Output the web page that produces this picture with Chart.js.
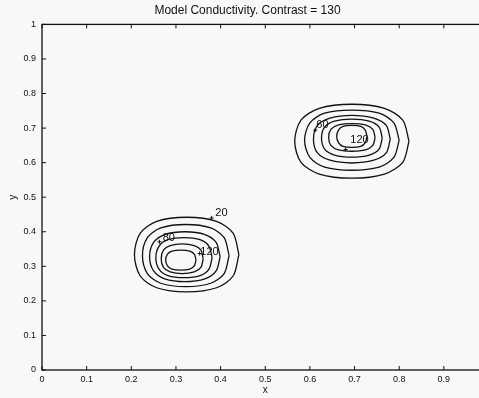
<!DOCTYPE html>
<html>
<head>
<meta charset="utf-8">
<script src="https://cdn.jsdelivr.net/npm/chart.js@4"></script>
<style>
  html, body { margin: 0; padding: 0; background: #f8f8f8; overflow: hidden; }
  canvas { display: block; }
</style>
</head>
<body>
<canvas id="contourChart" width="495" height="398"></canvas>
<script>
// contour levels, outer ring first
const levels = [20, 40, 60, 80, 100, 120];

// lower-left blob, one ring per level (x and y)
const lowX = [
  [0.441, 0.428, 0.391, 0.324, 0.257, 0.220, 0.207, 0.220, 0.257, 0.324, 0.391, 0.428],
  [0.419, 0.408, 0.378, 0.322, 0.266, 0.236, 0.225, 0.236, 0.266, 0.322, 0.378, 0.408],
  [0.399, 0.390, 0.365, 0.320, 0.275, 0.250, 0.241, 0.250, 0.275, 0.320, 0.365, 0.390],
  [0.381, 0.374, 0.354, 0.318, 0.282, 0.262, 0.255, 0.262, 0.282, 0.318, 0.354, 0.374],
  [0.361, 0.356, 0.341, 0.314, 0.287, 0.272, 0.267, 0.272, 0.287, 0.314, 0.341, 0.356],
  [0.345, 0.341, 0.331, 0.311, 0.291, 0.281, 0.277, 0.281, 0.291, 0.311, 0.331, 0.341]
];
const lowY = [
  [0.334, 0.396, 0.430, 0.442, 0.430, 0.396, 0.334, 0.272, 0.238, 0.226, 0.238, 0.272],
  [0.331, 0.383, 0.411, 0.421, 0.411, 0.383, 0.331, 0.279, 0.251, 0.241, 0.251, 0.279],
  [0.328, 0.369, 0.392, 0.400, 0.392, 0.369, 0.328, 0.287, 0.264, 0.256, 0.264, 0.287],
  [0.325, 0.358, 0.377, 0.383, 0.377, 0.358, 0.325, 0.292, 0.273, 0.267, 0.273, 0.292],
  [0.322, 0.347, 0.360, 0.365, 0.360, 0.347, 0.322, 0.297, 0.284, 0.279, 0.284, 0.297],
  [0.318, 0.335, 0.344, 0.347, 0.344, 0.335, 0.318, 0.301, 0.292, 0.289, 0.292, 0.301]
];

// upper-right blob
const highX = [
  [0.822, 0.808, 0.767, 0.694, 0.621, 0.580, 0.566, 0.580, 0.621, 0.694, 0.767, 0.808],
  [0.800, 0.788, 0.755, 0.694, 0.633, 0.600, 0.588, 0.600, 0.633, 0.694, 0.755, 0.788],
  [0.780, 0.771, 0.743, 0.694, 0.645, 0.617, 0.608, 0.617, 0.645, 0.694, 0.743, 0.771],
  [0.762, 0.755, 0.733, 0.694, 0.655, 0.633, 0.626, 0.633, 0.655, 0.694, 0.733, 0.755],
  [0.746, 0.741, 0.724, 0.694, 0.664, 0.647, 0.642, 0.647, 0.664, 0.694, 0.724, 0.741],
  [0.728, 0.724, 0.714, 0.694, 0.674, 0.664, 0.660, 0.664, 0.674, 0.694, 0.714, 0.724]
];
const highY = [
  [0.662, 0.723, 0.757, 0.769, 0.757, 0.723, 0.662, 0.601, 0.567, 0.555, 0.567, 0.601],
  [0.665, 0.715, 0.743, 0.752, 0.743, 0.715, 0.665, 0.615, 0.587, 0.578, 0.587, 0.615],
  [0.668, 0.708, 0.729, 0.737, 0.729, 0.708, 0.668, 0.628, 0.607, 0.599, 0.607, 0.628],
  [0.671, 0.703, 0.720, 0.726, 0.720, 0.703, 0.671, 0.639, 0.622, 0.616, 0.622, 0.639],
  [0.673, 0.696, 0.709, 0.713, 0.709, 0.696, 0.673, 0.650, 0.637, 0.633, 0.637, 0.650],
  [0.676, 0.694, 0.705, 0.708, 0.705, 0.694, 0.676, 0.658, 0.647, 0.644, 0.647, 0.658]
];

// contour labels and their "+" anchor marks
const labelText = ['20', '80', '120', '60', '120'];
const labelX = [0.402, 0.284, 0.375, 0.628, 0.711];
const labelY = [0.454, 0.382, 0.341, 0.708, 0.665];
const markX = [0.380, 0.263, 0.353, 0.612, 0.680];
const markY = [0.440, 0.371, 0.337, 0.694, 0.638];

const tickValues = [0, 0.1, 0.2, 0.3, 0.4, 0.5, 0.6, 0.7, 0.8, 0.9, 1];

function ring(xs, ys) {
    const pts = xs.map((x, i) => ({ x: x, y: ys[i] }));
    pts.push(pts[0]);
    return pts;
}

const datasets = [];
[[lowX, lowY], [highX, highY]].forEach(function (blob) {
    levels.forEach(function (lv, i) {
        datasets.push({
            label: 'level ' + lv,
            data: ring(blob[0][i], blob[1][i]),
            showLine: true,
            borderColor: '#111',
            borderWidth: 1.3,
            pointRadius: 0,
            tension: 0.3
        });
    });
});

// frame with inward ticks, plus contour labels
const framePlugin = {
    id: 'frame',
    afterDatasetsDraw(chart) {
        const ctx = chart.ctx;
        const a = chart.chartArea;
        const xs = chart.scales.x, ys = chart.scales.y;
        ctx.save();
        ctx.strokeStyle = '#111';
        ctx.lineWidth = 1.3;
        ctx.strokeRect(a.left, a.top, a.right - a.left, a.bottom - a.top);
        ctx.lineWidth = 1;
        ctx.beginPath();
        tickValues.forEach(function (v) {
            const px = xs.getPixelForValue(v);
            ctx.moveTo(px, a.bottom); ctx.lineTo(px, a.bottom - 4);
            ctx.moveTo(px, a.top); ctx.lineTo(px, a.top + 4);
            const py = ys.getPixelForValue(v);
            ctx.moveTo(a.left, py); ctx.lineTo(a.left + 4, py);
            ctx.moveTo(a.right, py); ctx.lineTo(a.right - 4, py);
        });
        markX.forEach(function (mx, i) {
            const px = xs.getPixelForValue(mx), py = ys.getPixelForValue(markY[i]);
            ctx.moveTo(px - 2, py); ctx.lineTo(px + 2, py);
            ctx.moveTo(px, py - 2); ctx.lineTo(px, py + 2);
        });
        ctx.stroke();

        ctx.fillStyle = '#111';
        ctx.font = '11px "Liberation Sans", Arial, sans-serif';
        ctx.textAlign = 'center';
        ctx.textBaseline = 'middle';
        labelText.forEach(function (t, i) {
            ctx.fillText(t, xs.getPixelForValue(labelX[i]), ys.getPixelForValue(labelY[i]));
        });
        ctx.restore();
    }
};

const fontFamily = '"Liberation Sans", Arial, sans-serif';
const tickFont = { family: fontFamily, size: 9 };

new Chart(document.getElementById('contourChart'), {
    type: 'scatter',
    data: { datasets: datasets },
    options: {
        responsive: false,
        animation: false,
        devicePixelRatio: 1,
        layout: { padding: 0 },
        plugins: {
            legend: { display: false },
            tooltip: { enabled: false },
            title: {
                display: true,
                text: 'Model Conductivity. Contrast = 130',
                color: '#111',
                font: { family: fontFamily, size: 12, weight: 'normal' },
                padding: { top: 3, bottom: 7 }
            }
        },
        scales: {
            x: {
                type: 'linear',
                min: 0, max: 1,
                grid: { display: false, drawTicks: false },
                border: { display: false },
                afterBuildTicks: function (s) { s.ticks = tickValues.map(v => ({ value: v })); },
                afterFit: function (s) { s.height = 28; },
                ticks: {
                    color: '#111', font: tickFont, padding: 4, maxRotation: 0, autoSkip: false,
                    callback: v => String(+v.toFixed(1))
                },
                title: {
                    display: true, text: 'x', color: '#111',
                    font: { family: fontFamily, size: 10 },
                    padding: { top: 0, bottom: 2 }
                }
            },
            y: {
                type: 'linear',
                min: 0, max: 1,
                grid: { display: false, drawTicks: false },
                border: { display: false },
                afterBuildTicks: function (s) { s.ticks = tickValues.map(v => ({ value: v })); },
                afterFit: function (s) { s.width = 42; },
                ticks: {
                    color: '#111', font: tickFont, padding: 6, autoSkip: false,
                    callback: v => String(+v.toFixed(1))
                },
                title: {
                    display: true, text: 'y', color: '#111',
                    font: { family: fontFamily, size: 10 },
                    padding: { top: 7, bottom: 0 }
                }
            }
        }
    },
    plugins: [framePlugin]
});
</script>
</body>
</html>
